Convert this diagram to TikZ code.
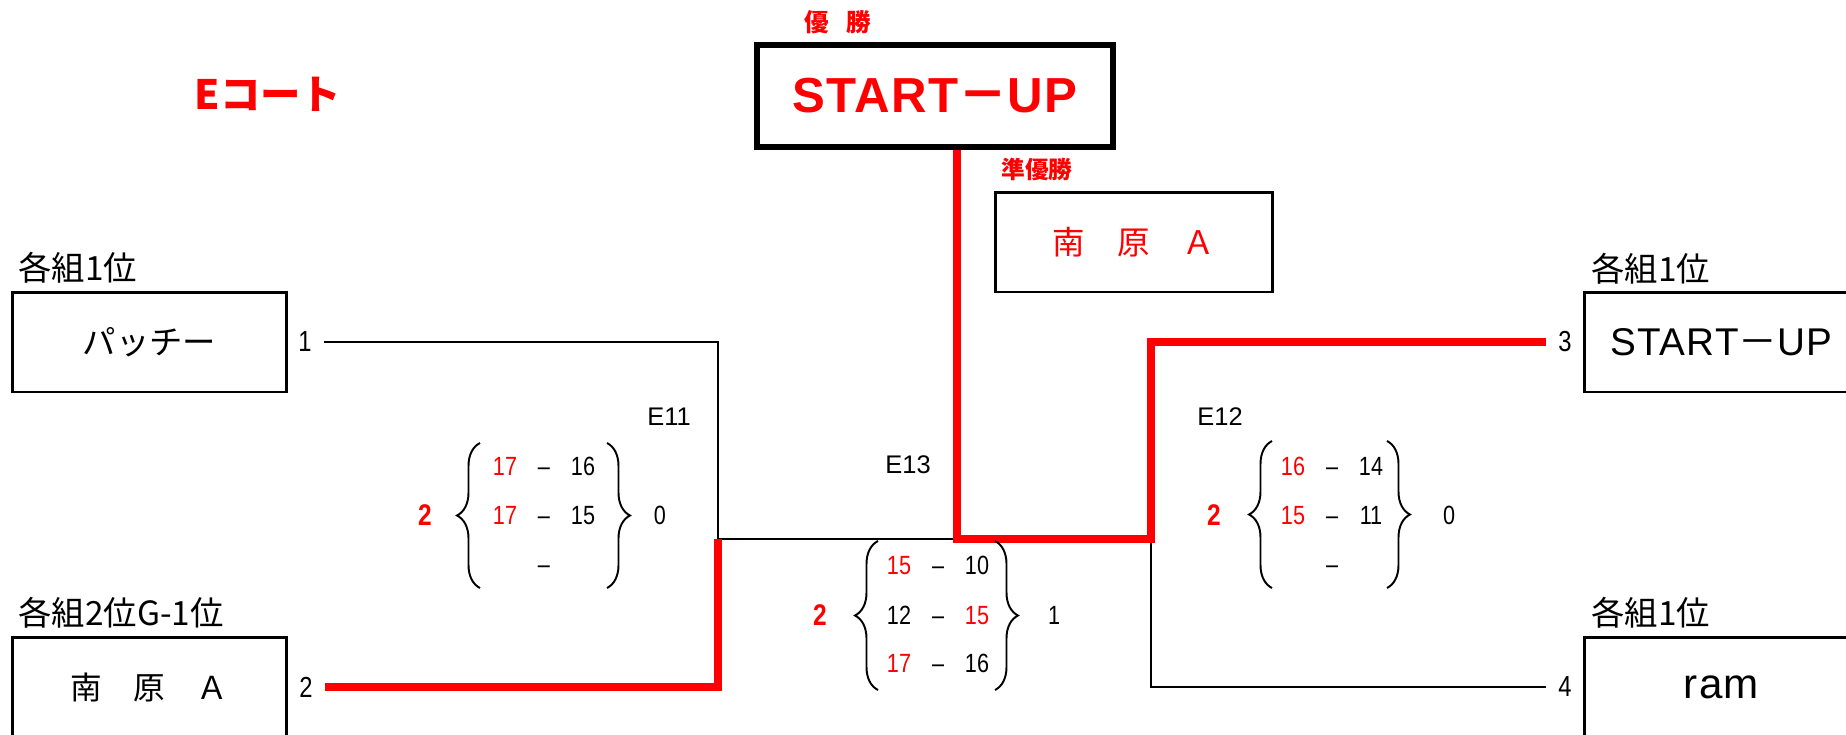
\documentclass[tikz,border=0pt]{standalone}
\usepackage{fontspec}
\setmainfont{Liberation Sans}
\newfontfamily\jp{Noto Sans CJK JP}
\newfontfamily\lat[LetterSpace=3]{Liberation Sans}
\newfontfamily\num[FakeStretch=0.82]{Liberation Sans}
\usetikzlibrary{decorations.pathreplacing}

\begin{document}
\begin{tikzpicture}[x=0.02cm,y=-0.02cm,
  team/.style={shape=rectangle,draw=black,line width=1.7pt,minimum width=5.5cm,minimum height=2cm,inner sep=0pt,font=\lat\fontsize{22}{22}\selectfont},
  group/.style={anchor=west,inner sep=0pt,font=\jp\fontsize{19}{19}\selectfont},
  seed/.style={inner xsep=7pt,inner ysep=0pt,font=\num\fontsize{16.5}{16.5}\selectfont},
  score/.style={inner sep=0pt,text height=10.7pt,text depth=0pt,font=\num\fontsize{15}{15}\selectfont},
  won/.style={inner sep=0pt,text=red,font=\num\bfseries\fontsize{17}{17}\selectfont},
  lost/.style={inner sep=0pt,font=\num\fontsize{15}{15}\selectfont},
  game/.style={inner sep=0pt,font=\fontsize{14.5}{14.5}\selectfont},
  lose/.style={draw=black,line width=1.6pt},
  win/.style={draw=red,line width=4pt},
  brc/.style={decorate,decoration={brace,amplitude=0.46cm},line width=1.1pt}]
\useasboundingbox (0,0) rectangle (1846,734);
\node[text=red,font=\jp\bfseries\fontsize{23}{23}\selectfont] (0) at (268,94) {Eコート};
\node[text=red,font=\jp\bfseries\fontsize{14}{14}\selectfont] (1) at (838,22) {優\hspace{0.7em}勝};
\node[team,line width=3pt,minimum width=7.12cm,minimum height=2.04cm,text=red,font=\lat\bfseries\fontsize{28}{28}\selectfont] (2) at (935,96) {START{\jp －}UP};
\node[text=red,font=\jp\bfseries\fontsize{13.5}{13.5}\selectfont] (3) at (1037,169) {準優勝};
\node[team,minimum width=5.56cm,text=red,font=\jp\fontsize{18.5}{18.5}\selectfont] (4) at (1134,242) {南　原　Ａ};
\node[group] (5) at (18,268) {各組1位};
\node[team,font=\jp\fontsize{19}{19}\selectfont] (6) at (149.5,342) {パッチー};
\node[seed] (7) at (305,342) {1};
\node[group] (8) at (18,613) {各組2位G-1位};
\node[team,font=\jp\fontsize{18}{18}\selectfont] (9) at (149.5,687) {南　原　Ａ};
\node[seed] (10) at (306,687) {2};
\node[group] (11) at (1591,269) {各組1位};
\node[team] (12) at (1721.5,342) {START{\jp －}UP};
\node[seed] (13) at (1565,342) {3};
\node[group] (14) at (1591,613) {各組1位};
\node[team,font=\lat\fontsize{24}{24}\selectfont] (15) at (1721.5,687) {ram};
\node[seed] (16) at (1565,687) {4};

\coordinate (17) at (718,342);
\coordinate (18) at (718,539);
\coordinate (19) at (718,687);
\coordinate (20) at (957,539);
\coordinate (21) at (1151,342);
\coordinate (22) at (1151,539);
\coordinate (23) at (1151,687);

\draw[lose] (7.east) -- (17) -- (18) -- (20);
\draw[lose] (22) -- (23) -- (16.west);
\draw[win] (10.east) -- (19) -- (18);
\draw[win] (2.south -| 20) -- (20) -- (22) -- (21) -- (13.west);

\draw[brc] (480,588) -- (480,443);
\draw[brc] (607,443) -- (607,588);
\draw[brc] (878,690) -- (878,541);
\draw[brc] (995,541) -- (995,690);
\draw[brc] (1272,588) -- (1272,441);
\draw[brc] (1387,441) -- (1387,588);

\node[game] (24) at (669,417) {E11};
\node[won] (25) at (425,515) {2};
\node[score,text=red] (26) at (505,466) {17};
\node[score] (27) at (544,466) {–};
\node[score] (28) at (583,466) {16};
\node[score,text=red] (29) at (505,515) {17};
\node[score] (30) at (544,515) {–};
\node[score] (31) at (583,515) {15};
\node[score] (32) at (544,564) {–};
\node[lost] (33) at (660,515) {0};

\node[game] (34) at (908,465) {E13};
\node[won] (35) at (820,615) {2};
\node[score,text=red] (36) at (899,565) {15};
\node[score] (37) at (938,565) {–};
\node[score] (38) at (977,565) {10};
\node[score] (39) at (899,615) {12};
\node[score] (40) at (938,615) {–};
\node[score,text=red] (41) at (977,615) {15};
\node[score,text=red] (42) at (899,663) {17};
\node[score] (43) at (938,663) {–};
\node[score] (44) at (977,663) {16};
\node[lost] (45) at (1054,615) {1};

\node[game] (46) at (1220,417) {E12};
\node[won] (47) at (1214,515) {2};
\node[score,text=red] (48) at (1293,466) {16};
\node[score] (49) at (1332,466) {–};
\node[score] (50) at (1371,466) {14};
\node[score,text=red] (51) at (1293,515) {15};
\node[score] (52) at (1332,515) {–};
\node[score] (53) at (1371,515) {11};
\node[score] (54) at (1332,564) {–};
\node[lost] (55) at (1449,515) {0};
\end{tikzpicture}
\end{document}
